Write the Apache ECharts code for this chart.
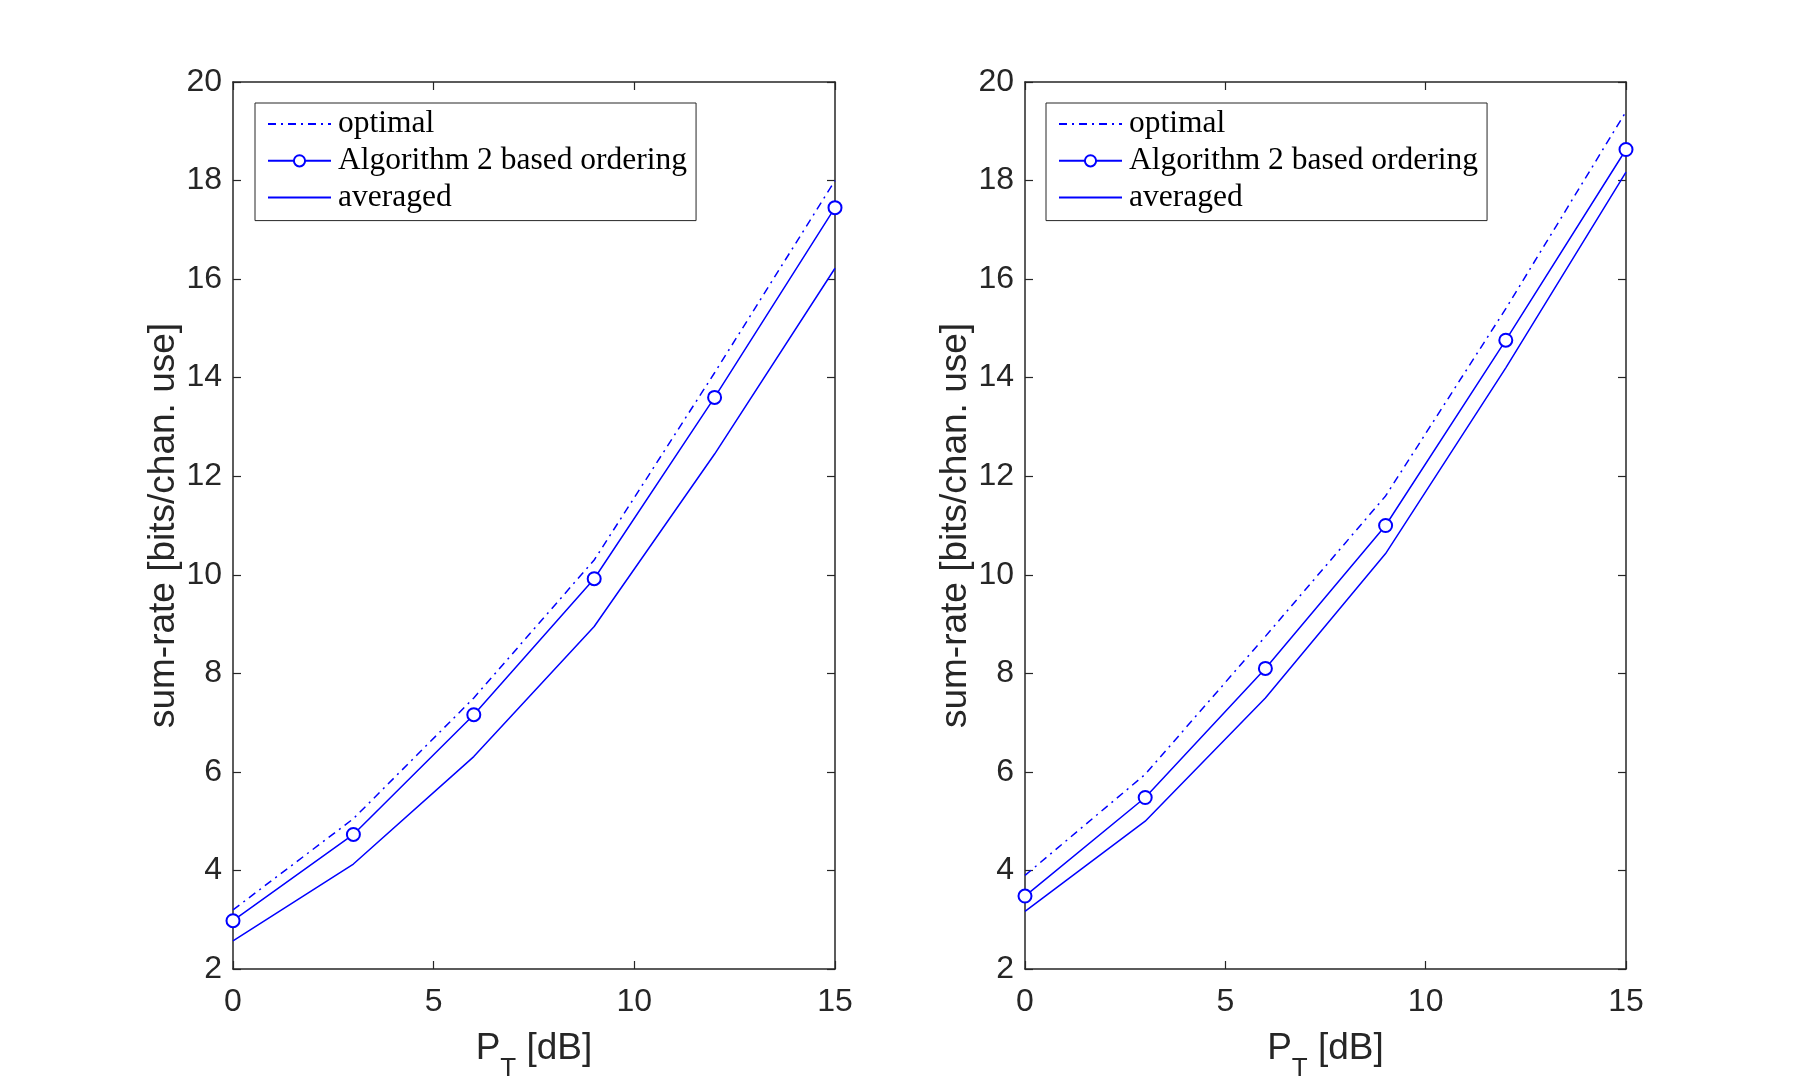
<!DOCTYPE html>
<html>
<head>
<meta charset="utf-8">
<title>sum-rate vs P_T</title>
<script src="https://cdn.jsdelivr.net/npm/echarts@6/dist/echarts.min.js"></script>
<style>
  html, body { margin: 0; padding: 0; background: #fff; }
  #chart { width: 1798px; height: 1090px; }
</style>
</head>
<body>
<div id="chart"></div>
<script>
// transmit power [dB]
const pt = [0, 3, 6, 9, 12, 15];

// left panel
const optimalA = [3.2, 5.05, 7.5, 10.3, 14.1, 18.0];
const algoA = [2.98, 4.73, 7.16, 9.92, 13.6, 17.45];
const avgA = [2.57, 4.13, 6.31, 8.95, 12.45, 16.22];

// right panel
const optimalB = [3.9, 5.95, 8.75, 11.6, 15.4, 19.4];
const algoB = [3.48, 5.48, 8.1, 11.0, 14.76, 18.63];
const avgB = [3.17, 5.0, 7.5, 10.43, 14.2, 18.17];

const seriesNames = ["optimal", "Algorithm 2 based ordering", "averaged"];
const xTicks = [0, 5, 10, 15];
const yTicks = [2, 4, 6, 8, 10, 12, 14, 16, 18, 20];

const BLUE = "#0000ff";
const AXIS = "#262626";
const SANS = "'Liberation Sans', Arial, Helvetica, sans-serif";
const SERIF = "'Liberation Serif', 'DejaVu Serif', serif";

const pairs = (ys) => pt.map((x, i) => [x, ys[i]]);

const grids = [
  { left: 233, top: 82, width: 602, height: 887 },
  { left: 1025, top: 82, width: 601, height: 887 },
];

const xAxes = [];
const yAxes = [];
grids.forEach((g, i) => {
  // main axes
  xAxes.push({
    type: "value", gridIndex: i, min: xTicks[0], max: xTicks[xTicks.length - 1], interval: 5,
    name: "{p|P}{s|T}{p| [dB]}", nameLocation: "middle", nameGap: 47,
    nameTextStyle: {
      rich: {
        p: { fontSize: 37, fontFamily: SANS, color: AXIS, verticalAlign: "middle" },
        s: { fontSize: 26, fontFamily: SANS, color: AXIS, verticalAlign: "middle", padding: [40, 0, 0, 0] },
      },
    },
    axisLine: { show: true, onZero: false, lineStyle: { color: AXIS, width: 1.5 } },
    axisTick: { show: true, inside: true, length: 8, lineStyle: { color: AXIS, width: 1.2 } },
    axisLabel: { show: true, margin: 17, fontSize: 32, fontFamily: SANS, color: AXIS },
    splitLine: { show: false },
  });
  yAxes.push({
    type: "value", gridIndex: i, min: yTicks[0], max: yTicks[yTicks.length - 1], interval: 2,
    name: "sum-rate [bits/chan. use]", nameLocation: "middle", nameGap: 47,
    nameTextStyle: { fontSize: 37, fontFamily: SANS, color: AXIS },
    axisLine: { show: true, onZero: false, lineStyle: { color: AXIS, width: 1.5 } },
    axisTick: { show: true, inside: true, length: 8, lineStyle: { color: AXIS, width: 1.2 } },
    axisLabel: { show: true, margin: 11, fontSize: 32, fontFamily: SANS, color: AXIS },
    splitLine: { show: false },
  });
  // box: top and right axes with inside ticks
  xAxes.push({
    type: "value", gridIndex: i, position: "top", min: 0, max: 15, interval: 5,
    axisLine: { show: true, onZero: false, lineStyle: { color: AXIS, width: 1.5 } },
    axisTick: { show: true, inside: true, length: 8, lineStyle: { color: AXIS, width: 1.2 } },
    axisLabel: { show: false },
    splitLine: { show: false },
  });
  yAxes.push({
    type: "value", gridIndex: i, position: "right", min: 2, max: 20, interval: 2,
    axisLine: { show: true, onZero: false, lineStyle: { color: AXIS, width: 1.5 } },
    axisTick: { show: true, inside: true, length: 8, lineStyle: { color: AXIS, width: 1.2 } },
    axisLabel: { show: false },
    splitLine: { show: false },
  });
});

const makeSeries = (panel, opt, algo, avg) => {
  const xi = panel * 2, yi = panel * 2;
  return [
    {
      name: seriesNames[0], type: "line", xAxisIndex: xi, yAxisIndex: yi,
      data: pairs(opt), symbol: "none",
      lineStyle: { color: BLUE, width: 1.5, type: [8, 5, 2, 5] },
      itemStyle: { color: BLUE },
    },
    {
      name: seriesNames[1], type: "line", xAxisIndex: xi, yAxisIndex: yi,
      data: pairs(algo), symbol: "emptyCircle", symbolSize: 13,
      lineStyle: { color: BLUE, width: 1.5 },
      itemStyle: { color: BLUE, borderColor: BLUE, borderWidth: 1.5 },
    },
    {
      name: seriesNames[2], type: "line", xAxisIndex: xi, yAxisIndex: yi,
      data: pairs(avg), symbol: "none",
      lineStyle: { color: BLUE, width: 1.5 },
      itemStyle: { color: BLUE },
    },
  ];
};

// lines without markers get no dot in the legend
const noDot = { opacity: 0 };
const makeLegend = (left) => ({
  data: [
    { name: seriesNames[0], itemStyle: noDot },
    { name: seriesNames[1] },
    { name: seriesNames[2], itemStyle: noDot },
  ],
  orient: "vertical",
  left: left, top: 103,
  padding: [5, 9, 7, 12],
  itemWidth: 63, itemHeight: 14, itemGap: 4.8,
  selectedMode: false,
  backgroundColor: "#fff",
  borderColor: AXIS, borderWidth: 1,
  textStyle: { fontSize: 31.5, lineHeight: 30, fontFamily: SERIF, color: "#000", padding: [0, 0, 0, 2] },
});

const chart = echarts.init(document.getElementById("chart"), null, { renderer: "canvas" });
chart.setOption({
  animation: false,
  backgroundColor: "#fff",
  grid: grids,
  xAxis: xAxes,
  yAxis: yAxes,
  legend: [makeLegend(255), makeLegend(1046)],
  series: [...makeSeries(0, optimalA, algoA, avgA), ...makeSeries(1, optimalB, algoB, avgB)],
});
</script>
</body>
</html>
